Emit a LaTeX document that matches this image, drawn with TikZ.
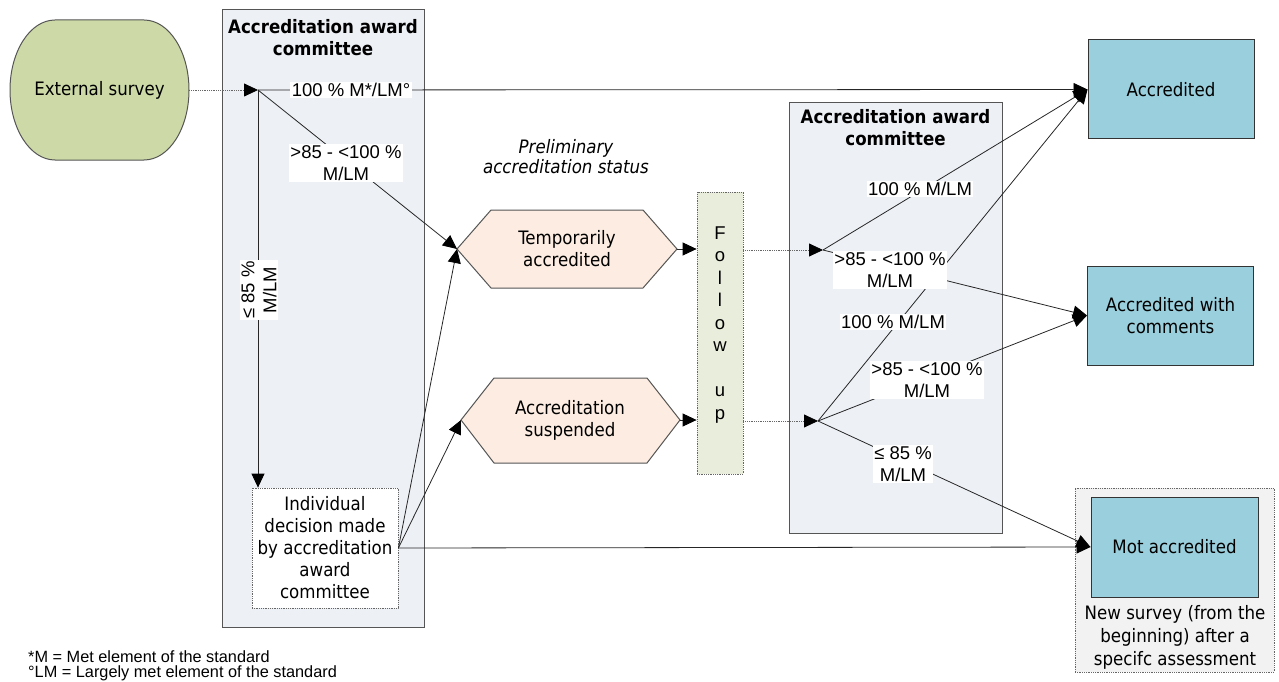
\documentclass[tikz,border=0pt]{standalone}
\usepackage{fontspec}
\setmainfont{Liberation Sans}
\newfontfamily\tah{DejaVu Sans Condensed}
\usetikzlibrary{arrows.meta}
\definecolor{extgreen}{RGB}{205,218,168}
\definecolor{commfill}{RGB}{237,240,245}
\definecolor{hexfill}{RGB}{252,236,225}
\definecolor{fufill}{RGB}{233,237,220}
\definecolor{resfill}{RGB}{154,208,221}
\definecolor{bgfill}{RGB}{242,242,242}
\definecolor{edge}{RGB}{85,85,85}
\tikzset{
  tahtext/.style={font=\tah\fontsize{18.5}{22}\selectfont, align=center},
  boldtitle/.style={font=\tah\bfseries\fontsize{18.5}{22}\selectfont, align=center},
  lab/.style={fill=white, inner sep=1.5pt, align=center, font=\fontsize{18.5}{22}\selectfont},
  committee/.style={draw=edge, fill=commfill, line width=1pt},
  hexa/.style={draw=edge, fill=hexfill, line width=1pt},
  result/.style={draw=black!80, fill=resfill, line width=1pt, minimum width=166pt, minimum height=99pt, tahtext},
  dotbox/.style={draw=black!60, densely dotted, line width=0.8pt},
  arr/.style={-{Triangle[length=14pt,width=13pt,black]}, line width=0.8pt, draw=black!85},
  dotarr/.style={arr, densely dotted, draw=black!60},
  note/.style={font=\fontsize{16.3}{15}\selectfont, anchor=base west, inner sep=0pt}
}
\begin{document}
\begin{tikzpicture}[x=1pt,y=-1pt]
\useasboundingbox (0,0) rectangle (1279,682);

% committee panels
\node[committee, minimum width=202pt, minimum height=617pt] (comL) at (323,318.5) {};
\node[boldtitle] (comLt) at (323,38) {Accreditation award\\committee};
\node[committee, minimum width=213pt, minimum height=430pt] (comR) at (895.5,318) {};
\node[boldtitle] (comRt) at (895.5,128) {Accreditation award\\committee};

% external survey (stadium with elliptical ends)
\path[draw=edge, fill=extgreen, line width=1pt]
  (55,20) -- (144,20) arc[start angle=90, end angle=-90, x radius=45pt, y radius=70pt]
  -- (55,160) arc[start angle=270, end angle=90, x radius=45pt, y radius=70pt] -- cycle;
\node[tahtext, minimum width=179pt, minimum height=140pt] (ext) at (99.5,90) {External survey};

% individual decision
\node[dotbox, fill=white, minimum width=146pt, minimum height=120pt, tahtext] (indiv) at (325,548)
  {Individual\\decision made\\by accreditation\\award\\committee};

% preliminary status hexagons
\node[tahtext, font=\tah\itshape\fontsize{18.5}{20}\selectfont] (prelim) at (566,157) {Preliminary\\accreditation status};
\coordinate (tmpW) at (457,249);
\coordinate (tmpE) at (677,249);
\draw[hexa] (tmpW) -- (491,210) -- (643,210) -- (tmpE) -- (643,288) -- (491,288) -- cycle;
\node[tahtext] (tmp) at (567,249) {Temporarily\\accredited};
\coordinate (susW) at (461,420);
\coordinate (susE) at (680,420);
\draw[hexa] (susW) -- (494,378) -- (647,378) -- (susE) -- (647,463) -- (494,463) -- cycle;
\node[tahtext] (sus) at (570,420) {Accreditation\\suspended};

% follow up
\node[dotbox, fill=fufill, minimum width=46pt, minimum height=282pt] (fu) at (720,333) {};
\node[align=center, font=\fontsize{18.5}{22.5}\selectfont] (fut) at (720,325) {F\\o\\l\\l\\o\\w\\[22.5pt]u\\p};

% results
\node[result] (acc) at (1171,89.5) {Accredited};
\node[result] (accc) at (1170.5,315.5) {Accredited with\\comments};
\node[dotbox, fill=bgfill, minimum width=199pt, minimum height=184pt] (motbg) at (1174.5,580) {};
\node[result, minimum width=167pt, minimum height=100pt] (mot) at (1174.5,547) {Mot accredited};
\node[tahtext, font=\tah\fontsize{18.5}{23}\selectfont] (motcap) at (1175,637) {New survey (from the\\beginning) after a\\specifc assessment};

% branch points
\coordinate (s1) at (258,90);
\coordinate (p1) at (823,250);
\coordinate (p2) at (818,421);

% connectors
\draw[dotarr] (ext.east) -- (s1);
\draw[arr] (s1) -- (acc.west);
\draw[arr] (s1) -- (tmpW);
\draw[arr] (s1) -- (s1 |- indiv.north);
\draw[arr] (indiv.east) -- (tmpW);
\draw[arr] (indiv.east) -- (susW);
\draw[arr] (indiv.east) -- (mot.west);
\draw[arr] (tmpE) -- (tmpE -| fu.west);
\draw[arr] (susE) -- (susE -| fu.west);
\draw[dotarr] (fu.east |- p1) -- (p1);
\draw[dotarr] (fu.east |- p2) -- (p2);
\draw[arr] (p1) -- (acc.west);
\draw[arr] (p1) -- (accc.west);
\draw[arr] (p2) -- (acc.west);
\draw[arr] (p2) -- (accc.west);
\draw[arr] (p2) -- (mot.west);

% connector labels
\node[lab] (l1) at (351,90) {100 \% M*/LM°};
\node[lab] (l2) at (346,163) {>85 - <100 \%\\M/LM};
\node[lab, rotate=90] (l3) at (259,290) {≤ 85 \%\\M/LM};
\node[lab] (r1) at (920,189) {100 \% M/LM};
\node[lab] (r2) at (890,270) {>85 - <100 \%\\M/LM};
\node[lab] (r3) at (893,322) {100 \% M/LM};
\node[lab] (r4) at (927,380) {>85 - <100 \%\\M/LM};
\node[lab] (r5) at (903,464) {≤ 85 \%\\M/LM};

% footnotes
\node[note] (n1) at (28,662) {*M = Met element of the standard};
\node[note] (n2) at (28,677) {°LM = Largely met element of the standard};
\end{tikzpicture}
\end{document}
